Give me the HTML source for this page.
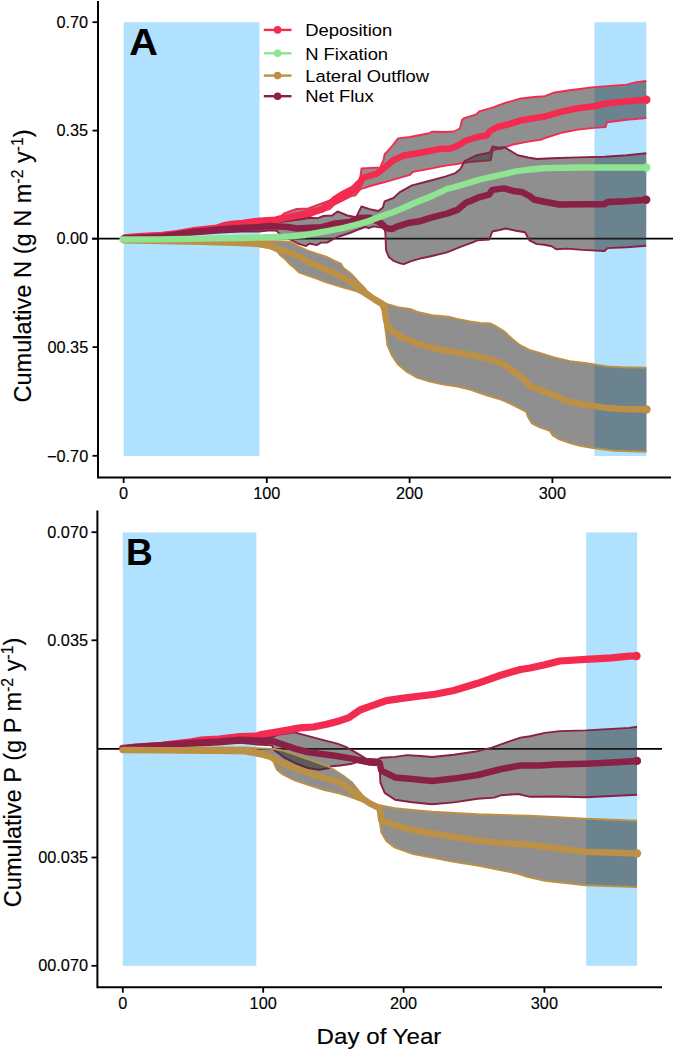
<!DOCTYPE html>
<html><head><meta charset="utf-8"><style>
html,body{margin:0;padding:0;background:#fff;width:673px;height:1050px;overflow:hidden}
</style></head><body>
<svg width="673" height="1050" viewBox="0 0 673 1050" style="position:absolute;left:0;top:0">
<rect x="123.7" y="22.2" width="135.8" height="433.8" fill="#B0E2FF"/>
<rect x="594.5" y="22.2" width="51.8" height="433.8" fill="#B0E2FF"/>
<line x1="92" y1="238.7" x2="673" y2="238.7" stroke="#000" stroke-width="1.8"/>
<polygon points="123.7,238.0 124.0,235.3 137.8,233.9 161.6,232.8 177.0,231.0 193.7,228.0 216.4,225.4 224.0,223.0 230.7,221.8 242.6,220.6 259.2,218.4 275.0,217.5 281.0,216.0 284.0,213.4 296.7,209.0 308.3,208.5 315.0,206.0 319.0,204.5 330.0,200.5 333.9,196.7 342.8,191.4 351.7,186.9 358.0,180.7 360.0,179.3 361.5,168.5 380.3,167.4 383.5,160.0 384.7,154.0 387.7,151.1 392.9,145.1 398.1,138.4 410.0,137.0 429.3,133.2 432.3,131.7 445.0,132.0 453.9,131.5 459.9,128.5 462.0,120.0 464.3,118.1 476.2,114.4 479.2,111.4 492.5,107.7 504.4,103.2 519.3,98.8 534.2,97.0 545.0,96.1 553.2,92.8 569.5,90.3 594.0,87.1 610.4,85.9 626.7,84.6 636.5,82.2 646.3,81.0 646.3,118.1 626.7,119.8 607.1,122.2 605.5,127.1 594.0,127.9 577.7,129.6 561.3,132.8 545.0,138.0 541.6,139.6 526.7,141.9 511.9,144.8 501.5,148.6 495.0,149.5 492.5,151.0 490.7,160.3 478.0,161.3 464.7,162.5 459.9,163.5 455.0,164.4 444.2,165.9 429.3,168.9 413.0,171.9 410.0,174.8 399.6,177.8 389.2,180.8 385.0,182.0 369.9,186.0 363.9,188.2 360.6,189.0 355.0,195.6 351.7,195.8 342.8,200.3 333.9,204.8 330.0,208.9 319.0,212.5 308.3,216.9 300.0,218.5 290.0,220.0 275.0,222.5 259.2,224.0 242.6,225.5 230.7,227.0 216.4,230.0 193.7,233.0 177.0,235.5 161.6,237.0 137.8,238.0 123.7,239.0" fill="rgba(50,50,50,0.546)" stroke="none"/>
<polyline points="123.7,238.0 124.0,235.3 137.8,233.9 161.6,232.8 177.0,231.0 193.7,228.0 216.4,225.4 224.0,223.0 230.7,221.8 242.6,220.6 259.2,218.4 275.0,217.5 281.0,216.0 284.0,213.4 296.7,209.0 308.3,208.5 315.0,206.0 319.0,204.5 330.0,200.5 333.9,196.7 342.8,191.4 351.7,186.9 358.0,180.7 360.0,179.3 361.5,168.5 380.3,167.4 383.5,160.0 384.7,154.0 387.7,151.1 392.9,145.1 398.1,138.4 410.0,137.0 429.3,133.2 432.3,131.7 445.0,132.0 453.9,131.5 459.9,128.5 462.0,120.0 464.3,118.1 476.2,114.4 479.2,111.4 492.5,107.7 504.4,103.2 519.3,98.8 534.2,97.0 545.0,96.1 553.2,92.8 569.5,90.3 594.0,87.1 610.4,85.9 626.7,84.6 636.5,82.2 646.3,81.0" fill="none" stroke="#F42B50" stroke-width="1.9" stroke-linejoin="round"/>
<polyline points="123.7,239.0 137.8,238.0 161.6,237.0 177.0,235.5 193.7,233.0 216.4,230.0 230.7,227.0 242.6,225.5 259.2,224.0 275.0,222.5 290.0,220.0 300.0,218.5 308.3,216.9 319.0,212.5 330.0,208.9 333.9,204.8 342.8,200.3 351.7,195.8 355.0,195.6 360.6,189.0 363.9,188.2 369.9,186.0 385.0,182.0 389.2,180.8 399.6,177.8 410.0,174.8 413.0,171.9 429.3,168.9 444.2,165.9 455.0,164.4 459.9,163.5 464.7,162.5 478.0,161.3 490.7,160.3 492.5,151.0 495.0,149.5 501.5,148.6 511.9,144.8 526.7,141.9 541.6,139.6 545.0,138.0 561.3,132.8 577.7,129.6 594.0,127.9 605.5,127.1 607.1,122.2 626.7,119.8 646.3,118.1" fill="none" stroke="#F42B50" stroke-width="1.9" stroke-linejoin="round"/>

<polygon points="123.7,239.0 137.8,238.0 161.6,237.0 177.0,236.0 193.7,233.0 216.4,230.5 230.7,228.0 242.6,227.0 259.2,225.5 270.0,222.7 287.8,221.0 301.2,219.2 310.1,217.8 317.2,218.3 323.5,216.0 332.1,215.5 337.5,211.4 347.3,215.5 356.2,217.2 361.5,206.5 369.6,209.2 378.5,211.0 382.9,207.4 384.6,201.3 393.5,198.0 399.4,192.4 412.0,185.3 429.0,181.0 446.0,176.4 455.4,173.1 460.2,169.2 464.7,161.0 475.8,155.5 490.0,152.5 492.5,146.5 498.5,147.8 504.4,147.1 510.4,150.8 517.8,155.2 528.2,157.5 537.1,159.0 551.5,158.2 577.7,157.4 604.6,156.7 626.9,155.2 646.3,153.2 646.2,245.8 626.9,247.3 607.5,248.1 604.6,251.0 582.3,249.9 566.6,248.6 556.2,249.3 551.7,246.3 544.3,244.8 536.9,244.1 529.4,240.4 525.0,232.2 516.1,230.7 505.7,228.5 499.7,230.0 492.3,231.5 489.3,239.6 477.4,240.4 472.1,242.6 461.7,246.3 446.9,252.3 432.0,256.0 421.6,258.2 411.2,261.2 403.8,264.2 400.0,263.3 393.7,260.9 389.0,257.3 386.0,250.2 385.4,233.5 384.8,228.8 381.8,227.6 373.5,226.4 368.8,228.2 365.2,227.0 356.9,230.0 349.7,233.0 339.0,236.5 335.5,238.0 331.9,239.9 327.0,242.6 321.0,242.6 316.7,245.2 309.6,243.5 306.0,246.1 298.9,243.9 290.0,239.5 285.0,236.0 278.5,233.0 277.0,230.7 270.0,230.3 259.2,231.5 242.6,231.5 230.7,232.1 216.4,232.7 193.7,234.5 161.6,238.0 123.7,239.5" fill="rgba(50,50,50,0.546)" stroke="none"/>
<polyline points="123.7,239.0 137.8,238.0 161.6,237.0 177.0,236.0 193.7,233.0 216.4,230.5 230.7,228.0 242.6,227.0 259.2,225.5 270.0,222.7 287.8,221.0 301.2,219.2 310.1,217.8 317.2,218.3 323.5,216.0 332.1,215.5 337.5,211.4 347.3,215.5 356.2,217.2 361.5,206.5 369.6,209.2 378.5,211.0 382.9,207.4 384.6,201.3 393.5,198.0 399.4,192.4 412.0,185.3 429.0,181.0 446.0,176.4 455.4,173.1 460.2,169.2 464.7,161.0 475.8,155.5 490.0,152.5 492.5,146.5 498.5,147.8 504.4,147.1 510.4,150.8 517.8,155.2 528.2,157.5 537.1,159.0 551.5,158.2 577.7,157.4 604.6,156.7 626.9,155.2 646.3,153.2" fill="none" stroke="#8A2045" stroke-width="1.9" stroke-linejoin="round"/>
<polyline points="123.7,239.5 161.6,238.0 193.7,234.5 216.4,232.7 230.7,232.1 242.6,231.5 259.2,231.5 270.0,230.3 277.0,230.7 278.5,233.0 285.0,236.0 290.0,239.5 298.9,243.9 306.0,246.1 309.6,243.5 316.7,245.2 321.0,242.6 327.0,242.6 331.9,239.9 335.5,238.0 339.0,236.5 349.7,233.0 356.9,230.0 365.2,227.0 368.8,228.2 373.5,226.4 381.8,227.6 384.8,228.8 385.4,233.5 386.0,250.2 389.0,257.3 393.7,260.9 400.0,263.3 403.8,264.2 411.2,261.2 421.6,258.2 432.0,256.0 446.9,252.3 461.7,246.3 472.1,242.6 477.4,240.4 489.3,239.6 492.3,231.5 499.7,230.0 505.7,228.5 516.1,230.7 525.0,232.2 529.4,240.4 536.9,244.1 544.3,244.8 551.7,246.3 556.2,249.3 566.6,248.6 582.3,249.9 604.6,251.0 607.5,248.1 626.9,247.3 646.2,245.8" fill="none" stroke="#8A2045" stroke-width="1.9" stroke-linejoin="round"/>

<polygon points="123.7,239.8 200.0,240.8 240.0,241.2 277.0,241.1 290.0,241.7 298.9,246.6 307.8,250.6 316.7,253.7 325.6,256.4 334.6,260.8 340.8,263.5 343.5,268.0 350.8,273.5 359.7,283.1 364.2,287.5 367.1,291.3 374.6,297.2 380.0,300.4 387.4,304.1 397.8,307.1 411.2,309.3 418.6,312.3 432.0,315.3 448.4,316.7 457.3,319.0 470.0,321.5 480.4,323.0 490.8,323.5 496.7,326.7 504.2,331.2 510.1,337.1 519.0,344.6 529.4,349.8 541.3,353.5 553.2,357.2 570.0,361.2 584.9,363.0 594.5,364.5 607.1,366.4 622.0,367.2 646.5,367.8 646.5,451.7 614.6,450.7 594.5,448.2 580.0,445.8 569.2,442.8 558.8,439.1 552.8,435.4 549.8,430.9 539.4,427.2 532.0,423.5 528.3,417.5 526.1,411.6 518.6,407.9 509.7,403.4 499.3,399.0 488.9,396.0 480.0,393.0 470.0,389.5 457.3,386.6 442.4,384.4 429.0,381.4 417.1,377.7 406.7,371.7 397.8,364.3 391.9,355.4 387.4,345.0 385.2,327.1 384.5,316.0 383.5,312.8 380.5,305.4 368.6,298.0 361.2,293.5 356.7,291.3 350.0,289.4 343.5,287.6 334.6,284.9 325.6,282.2 316.7,278.7 307.8,275.6 298.9,272.4 294.5,268.0 290.0,264.4 285.0,259.0 280.0,255.0 277.0,251.5 270.0,248.0 259.0,246.0 240.0,244.0 200.0,242.8 123.7,240.5" fill="rgba(50,50,50,0.546)" stroke="none"/>
<polyline points="123.7,239.8 200.0,240.8 240.0,241.2 277.0,241.1 290.0,241.7 298.9,246.6 307.8,250.6 316.7,253.7 325.6,256.4 334.6,260.8 340.8,263.5 343.5,268.0 350.8,273.5 359.7,283.1 364.2,287.5 367.1,291.3 374.6,297.2 380.0,300.4 387.4,304.1 397.8,307.1 411.2,309.3 418.6,312.3 432.0,315.3 448.4,316.7 457.3,319.0 470.0,321.5 480.4,323.0 490.8,323.5 496.7,326.7 504.2,331.2 510.1,337.1 519.0,344.6 529.4,349.8 541.3,353.5 553.2,357.2 570.0,361.2 584.9,363.0 594.5,364.5 607.1,366.4 622.0,367.2 646.5,367.8" fill="none" stroke="#BC9146" stroke-width="1.9" stroke-linejoin="round"/>
<polyline points="123.7,240.5 200.0,242.8 240.0,244.0 259.0,246.0 270.0,248.0 277.0,251.5 280.0,255.0 285.0,259.0 290.0,264.4 294.5,268.0 298.9,272.4 307.8,275.6 316.7,278.7 325.6,282.2 334.6,284.9 343.5,287.6 350.0,289.4 356.7,291.3 361.2,293.5 368.6,298.0 380.5,305.4 383.5,312.8 384.5,316.0 385.2,327.1 387.4,345.0 391.9,355.4 397.8,364.3 406.7,371.7 417.1,377.7 429.0,381.4 442.4,384.4 457.3,386.6 470.0,389.5 480.0,393.0 488.9,396.0 499.3,399.0 509.7,403.4 518.6,407.9 526.1,411.6 528.3,417.5 532.0,423.5 539.4,427.2 549.8,430.9 552.8,435.4 558.8,439.1 569.2,442.8 580.0,445.8 594.5,448.2 614.6,450.7 646.5,451.7" fill="none" stroke="#BC9146" stroke-width="1.9" stroke-linejoin="round"/>

<polyline points="123.7,238.5 137.8,237.5 161.6,236.0 177.0,234.0 193.7,231.0 216.4,228.4 230.7,225.0 242.6,223.8 259.2,221.6 275.0,220.3 285.0,218.0 296.7,215.5 310.0,212.5 322.0,209.5 325.0,206.5 333.9,200.7 342.8,195.8 351.7,191.3 356.0,189.0 360.0,183.0 362.4,178.0 377.3,173.4 384.7,167.4 393.6,160.0 404.0,155.5 421.9,152.5 436.7,149.6 440.0,148.8 450.4,148.5 457.7,145.7 466.0,140.5 476.4,137.4 486.8,135.3 490.0,131.0 497.2,127.0 510.0,123.8 519.3,120.8 534.2,118.1 545.0,116.5 561.3,111.6 577.7,108.3 594.0,106.2 607.1,103.4 626.7,101.3 646.3,99.7" fill="none" stroke="#F42B50" stroke-width="6.5" stroke-linejoin="round" stroke-linecap="round"/>
<circle cx="646.3" cy="99.7" r="4.2" fill="#F42B50"/>

<polyline points="123.7,238.5 161.6,236.5 193.7,232.0 216.4,229.8 230.7,228.5 259.2,227.0 270.0,226.0 287.8,227.0 296.7,228.5 314.6,227.5 320.0,227.6 335.5,223.4 349.7,222.0 359.0,218.0 369.6,217.7 378.5,221.7 382.0,224.0 386.0,228.0 391.9,229.0 397.8,226.3 409.7,222.7 420.0,221.2 432.0,217.3 446.9,213.6 457.3,209.9 466.2,202.5 470.0,201.2 478.9,197.3 489.3,194.3 492.3,189.9 504.2,188.4 514.6,191.3 522.0,192.1 529.4,195.8 533.9,199.5 544.3,201.7 559.2,204.5 582.3,204.2 604.6,204.2 607.5,202.0 626.9,201.3 646.2,199.8" fill="none" stroke="#8A2045" stroke-width="6.5" stroke-linejoin="round" stroke-linecap="round"/>
<circle cx="646.2" cy="199.8" r="4.2" fill="#8A2045"/>

<polyline points="123.7,240.2 200.0,241.8 240.0,243.0 259.0,244.0 270.0,246.0 277.0,248.6 290.0,252.8 298.9,256.4 307.8,261.7 316.7,265.3 325.6,269.8 334.6,273.3 343.5,277.8 350.0,281.3 356.7,286.8 365.7,293.5 374.6,299.4 382.0,303.9 384.5,308.0 385.7,318.0 387.4,325.7 391.9,330.9 402.3,337.5 417.1,343.5 432.0,348.0 446.9,350.9 461.7,353.1 470.0,355.0 484.9,357.9 499.7,362.4 511.6,369.8 525.0,380.0 530.0,386.0 542.0,390.7 554.0,395.5 566.0,400.5 570.0,402.0 584.9,404.6 594.5,406.1 607.1,408.1 622.0,409.1 646.5,409.5" fill="none" stroke="#BC9146" stroke-width="6.5" stroke-linejoin="round" stroke-linecap="round"/>
<circle cx="646.5" cy="409.5" r="4.2" fill="#BC9146"/>

<polyline points="122.5,239.4 160.0,239.4 200.0,238.6 240.0,238.0 270.0,237.2 290.0,236.3 305.0,235.0 320.0,232.3 330.0,230.5 343.8,227.8 355.0,225.0 367.6,221.5 380.0,216.7 390.0,213.3 400.0,209.3 410.0,205.0 420.0,200.7 432.0,196.0 446.9,189.0 455.0,187.0 470.0,182.5 480.0,179.5 500.0,175.0 515.0,171.5 530.0,169.5 545.0,168.2 580.0,167.5 646.3,167.5" fill="none" stroke="#8EE490" stroke-width="6.3" stroke-linejoin="round" stroke-linecap="round"/>
<circle cx="646.3" cy="167.5" r="4.2" fill="#8EE490"/>

<path d="M98,1 V478.5 M97,477.5 H671" stroke="#000" stroke-width="2" fill="none"/>
<line x1="92.5" y1="22.2" x2="98" y2="22.2" stroke="#000" stroke-width="1.8"/>
<line x1="92.5" y1="130.6" x2="98" y2="130.6" stroke="#000" stroke-width="1.8"/>
<line x1="92.5" y1="238.7" x2="98" y2="238.7" stroke="#000" stroke-width="1.8"/>
<line x1="92.5" y1="347.1" x2="98" y2="347.1" stroke="#000" stroke-width="1.8"/>
<line x1="92.5" y1="455.8" x2="98" y2="455.8" stroke="#000" stroke-width="1.8"/>
<line x1="123.65" y1="477.5" x2="123.65" y2="483" stroke="#000" stroke-width="1.8"/>
<line x1="266.8" y1="477.5" x2="266.8" y2="483" stroke="#000" stroke-width="1.8"/>
<line x1="409.6" y1="477.5" x2="409.6" y2="483" stroke="#000" stroke-width="1.8"/>
<line x1="552.4" y1="477.5" x2="552.4" y2="483" stroke="#000" stroke-width="1.8"/>
<text x="88.2" y="27.9" text-anchor="end" style="font-family:'Liberation Sans',sans-serif;stroke:#000;stroke-width:0.15px;font-size:16.3px">0.70</text>
<text x="88.2" y="136.29999999999998" text-anchor="end" style="font-family:'Liberation Sans',sans-serif;stroke:#000;stroke-width:0.15px;font-size:16.3px">0.35</text>
<text x="88.2" y="244.39999999999998" text-anchor="end" style="font-family:'Liberation Sans',sans-serif;stroke:#000;stroke-width:0.15px;font-size:16.3px">0.00</text>
<text x="88.2" y="352.8" text-anchor="end" style="font-family:'Liberation Sans',sans-serif;stroke:#000;stroke-width:0.15px;font-size:16.3px">00.35</text>
<text x="88.2" y="461.5" text-anchor="end" style="font-family:'Liberation Sans',sans-serif;stroke:#000;stroke-width:0.15px;font-size:16.3px">−0.70</text>
<text x="123.65" y="498.8" text-anchor="middle" style="font-family:'Liberation Sans',sans-serif;stroke:#000;stroke-width:0.15px;font-size:16.3px">0</text>
<text x="266.8" y="498.8" text-anchor="middle" style="font-family:'Liberation Sans',sans-serif;stroke:#000;stroke-width:0.15px;font-size:16.3px">100</text>
<text x="409.6" y="498.8" text-anchor="middle" style="font-family:'Liberation Sans',sans-serif;stroke:#000;stroke-width:0.15px;font-size:16.3px">200</text>
<text x="552.4" y="498.8" text-anchor="middle" style="font-family:'Liberation Sans',sans-serif;stroke:#000;stroke-width:0.15px;font-size:16.3px">300</text>
<text transform="translate(129.2,54.5) scale(1.07,1)" style="font-family:'Liberation Sans',sans-serif;stroke:#000;stroke-width:0.15px;font-weight:bold;font-size:37px">A</text>
<line x1="263.8" y1="29.9" x2="291.5" y2="29.9" stroke="#F42B50" stroke-width="2.4"/>
<circle cx="277.6" cy="29.9" r="3.8" fill="#F42B50"/>
<text transform="translate(305.2,35.8) scale(1.06,1)" style="font-family:'Liberation Sans',sans-serif;font-size:17.4px">Deposition</text>
<line x1="263.8" y1="53.3" x2="291.5" y2="53.3" stroke="#8EE490" stroke-width="2.4"/>
<circle cx="277.6" cy="53.3" r="3.8" fill="#8EE490"/>
<text transform="translate(305.2,59.7) scale(1.06,1)" style="font-family:'Liberation Sans',sans-serif;font-size:17.4px">N Fixation</text>
<line x1="263.8" y1="75.6" x2="291.5" y2="75.6" stroke="#BC9146" stroke-width="2.4"/>
<circle cx="277.6" cy="75.6" r="3.8" fill="#BC9146"/>
<text transform="translate(305.2,81.9) scale(1.06,1)" style="font-family:'Liberation Sans',sans-serif;font-size:17.4px">Lateral Outflow</text>
<line x1="263.8" y1="96.2" x2="291.5" y2="96.2" stroke="#8A2045" stroke-width="2.4"/>
<circle cx="277.6" cy="96.2" r="3.8" fill="#8A2045"/>
<text transform="translate(305.2,101.8) scale(1.06,1)" style="font-family:'Liberation Sans',sans-serif;font-size:17.4px">Net Flux</text>
<text transform="translate(31.2,402.6) rotate(-90) scale(0.984,1)" style="font-family:'Liberation Sans',sans-serif;stroke:#000;stroke-width:0.15px;font-size:24px">Cumulative N (g N m<tspan dy="-8" font-size="16">-2</tspan><tspan dy="8"> y</tspan><tspan dy="-8" font-size="16">-1</tspan><tspan dy="8">)</tspan></text>
<rect x="122.8" y="532.4" width="133.5" height="433.4" fill="#B0E2FF"/>
<rect x="586.2" y="532.4" width="50.9" height="433.4" fill="#B0E2FF"/>
<line x1="97" y1="748.8" x2="662" y2="748.8" stroke="#000" stroke-width="1.8"/>
<polygon points="122.8,748.5 161.6,745.5 200.0,742.0 240.0,739.5 256.8,738.0 274.3,736.5 277.8,734.7 294.5,732.3 307.6,735.9 325.4,740.7 337.3,743.6 345.3,746.6 357.3,753.4 365.9,758.6 377.9,759.4 381.3,757.7 395.0,756.9 407.0,755.1 420.7,756.0 432.0,757.0 453.8,754.8 477.6,751.2 491.9,747.6 508.6,741.7 520.5,737.6 530.0,736.2 544.9,732.9 559.7,731.1 585.7,730.4 629.0,727.9 637.0,726.7 637.0,794.8 611.7,796.0 585.7,797.3 554.8,796.5 530.0,796.8 518.1,794.0 501.4,795.2 494.3,797.6 477.6,798.8 453.8,802.4 432.0,804.3 412.1,802.3 395.0,799.7 384.7,792.9 380.4,782.6 379.6,765.4 369.3,764.6 357.3,762.0 352.1,763.7 340.0,765.5 331.3,766.2 329.0,768.0 319.5,769.8 307.6,768.0 295.7,763.3 283.8,757.3 277.8,752.6 274.3,750.2 271.9,745.4 256.8,744.5 240.2,742.7 218.8,744.5 195.0,745.7 161.6,747.5 122.8,748.8" fill="rgba(50,50,50,0.546)" stroke="none"/>
<polyline points="122.8,748.5 161.6,745.5 200.0,742.0 240.0,739.5 256.8,738.0 274.3,736.5 277.8,734.7 294.5,732.3 307.6,735.9 325.4,740.7 337.3,743.6 345.3,746.6 357.3,753.4 365.9,758.6 377.9,759.4 381.3,757.7 395.0,756.9 407.0,755.1 420.7,756.0 432.0,757.0 453.8,754.8 477.6,751.2 491.9,747.6 508.6,741.7 520.5,737.6 530.0,736.2 544.9,732.9 559.7,731.1 585.7,730.4 629.0,727.9 637.0,726.7" fill="none" stroke="#8A2045" stroke-width="1.9" stroke-linejoin="round"/>
<polyline points="122.8,748.8 161.6,747.5 195.0,745.7 218.8,744.5 240.2,742.7 256.8,744.5 271.9,745.4 274.3,750.2 277.8,752.6 283.8,757.3 295.7,763.3 307.6,768.0 319.5,769.8 329.0,768.0 331.3,766.2 340.0,765.5 352.1,763.7 357.3,762.0 369.3,764.6 379.6,765.4 380.4,782.6 384.7,792.9 395.0,799.7 412.1,802.3 432.0,804.3 453.8,802.4 477.6,798.8 494.3,797.6 501.4,795.2 518.1,794.0 530.0,796.8 554.8,796.5 585.7,797.3 611.7,796.0 637.0,794.8" fill="none" stroke="#8A2045" stroke-width="1.9" stroke-linejoin="round"/>

<polygon points="122.8,747.5 245.0,747.5 260.0,748.4 274.3,749.0 283.8,750.8 295.7,754.9 307.6,759.1 319.5,763.3 329.0,766.8 336.0,771.0 343.6,776.0 352.1,782.6 359.0,791.1 365.9,799.7 377.9,804.9 395.0,808.3 412.1,810.0 432.0,811.8 477.6,814.3 530.0,815.8 585.7,818.8 637.0,820.8 637.0,887.1 585.7,885.2 544.9,880.7 525.2,876.2 518.1,873.8 501.4,870.2 477.6,865.5 453.8,861.9 432.0,857.5 412.1,853.7 395.0,847.7 386.4,840.9 381.3,832.3 379.6,820.3 377.9,808.3 362.4,801.4 348.7,796.3 340.0,793.5 331.3,791.5 324.5,790.0 312.6,786.4 294.7,780.4 282.8,774.5 276.9,769.7 273.3,761.4 271.9,758.5 265.0,757.5 254.5,755.2 245.0,753.5 200.0,752.8 122.8,751.0" fill="rgba(50,50,50,0.546)" stroke="none"/>
<polyline points="122.8,747.5 245.0,747.5 260.0,748.4 274.3,749.0 283.8,750.8 295.7,754.9 307.6,759.1 319.5,763.3 329.0,766.8 336.0,771.0 343.6,776.0 352.1,782.6 359.0,791.1 365.9,799.7 377.9,804.9 395.0,808.3 412.1,810.0 432.0,811.8 477.6,814.3 530.0,815.8 585.7,818.8 637.0,820.8" fill="none" stroke="#BC9146" stroke-width="1.9" stroke-linejoin="round"/>
<polyline points="122.8,751.0 200.0,752.8 245.0,753.5 254.5,755.2 265.0,757.5 271.9,758.5 273.3,761.4 276.9,769.7 282.8,774.5 294.7,780.4 312.6,786.4 324.5,790.0 331.3,791.5 340.0,793.5 348.7,796.3 362.4,801.4 377.9,808.3 379.6,820.3 381.3,832.3 386.4,840.9 395.0,847.7 412.1,853.7 432.0,857.5 453.8,861.9 477.6,865.5 501.4,870.2 518.1,873.8 525.2,876.2 544.9,880.7 585.7,885.2 637.0,887.1" fill="none" stroke="#BC9146" stroke-width="1.9" stroke-linejoin="round"/>

<polyline points="122.8,748.3 135.5,747.2 161.6,745.4 191.3,741.8 200.0,740.2 218.8,739.0 240.2,736.6 256.8,736.0 260.0,734.8 277.8,731.8 300.0,727.9 313.4,727.0 326.7,724.3 340.0,720.7 349.0,717.6 355.3,713.2 360.0,710.0 369.3,706.6 386.4,700.6 403.6,698.1 420.7,696.0 435.0,694.3 453.8,690.5 477.6,683.3 501.4,675.0 520.5,669.5 530.0,668.0 544.9,664.8 559.7,661.0 585.7,659.3 611.7,657.8 629.0,656.1 636.5,656.0" fill="none" stroke="#F42B50" stroke-width="7.2" stroke-linejoin="round" stroke-linecap="round"/>
<circle cx="636.5" cy="656" r="4.2" fill="#F42B50"/>

<polyline points="122.8,748.5 135.5,747.0 161.6,745.3 195.0,742.7 218.8,741.5 240.2,739.7 256.8,740.5 271.9,740.9 283.8,744.8 295.7,748.8 307.6,752.0 319.5,753.8 335.0,755.8 352.1,758.6 369.3,762.3 379.6,763.0 381.3,770.6 395.0,777.4 412.1,779.1 432.0,781.0 453.8,778.6 477.6,775.0 501.4,769.0 520.5,765.5 540.0,765.5 554.8,764.6 585.7,763.8 611.7,762.6 637.0,760.9" fill="none" stroke="#8A2045" stroke-width="6.5" stroke-linejoin="round" stroke-linecap="round"/>
<circle cx="637" cy="760.9" r="4.2" fill="#8A2045"/>

<polyline points="122.8,750.0 200.0,750.5 245.0,750.8 255.0,752.0 265.0,755.0 271.9,757.5 277.8,761.5 295.7,768.6 313.5,774.6 331.3,779.9 340.0,782.5 352.1,791.1 360.7,797.1 369.3,803.1 379.6,808.3 381.3,820.3 395.0,825.4 412.1,829.7 432.0,833.5 453.8,836.9 477.6,840.5 501.4,842.9 530.0,844.8 554.8,848.0 585.7,851.7 637.0,853.5" fill="none" stroke="#BC9146" stroke-width="6.5" stroke-linejoin="round" stroke-linecap="round"/>
<circle cx="637" cy="853.5" r="4.2" fill="#BC9146"/>

<path d="M97.4,510.5 V988.2 M96.4,987.2 H662" stroke="#000" stroke-width="2" fill="none"/>
<line x1="91.5" y1="532.2" x2="97" y2="532.2" stroke="#000" stroke-width="1.8"/>
<line x1="91.5" y1="640.3" x2="97" y2="640.3" stroke="#000" stroke-width="1.8"/>
<line x1="91.5" y1="857.5" x2="97" y2="857.5" stroke="#000" stroke-width="1.8"/>
<line x1="91.5" y1="965.8" x2="97" y2="965.8" stroke="#000" stroke-width="1.8"/>
<line x1="122.8" y1="987.2" x2="122.8" y2="992.7" stroke="#000" stroke-width="1.8"/>
<line x1="263.2" y1="987.2" x2="263.2" y2="992.7" stroke="#000" stroke-width="1.8"/>
<line x1="403.6" y1="987.2" x2="403.6" y2="992.7" stroke="#000" stroke-width="1.8"/>
<line x1="544.4" y1="987.2" x2="544.4" y2="992.7" stroke="#000" stroke-width="1.8"/>
<text x="88" y="537.7" text-anchor="end" style="font-family:'Liberation Sans',sans-serif;stroke:#000;stroke-width:0.15px;font-size:16.3px">0.070</text>
<text x="88" y="645.8" text-anchor="end" style="font-family:'Liberation Sans',sans-serif;stroke:#000;stroke-width:0.15px;font-size:16.3px">0.035</text>
<text x="88" y="863.0" text-anchor="end" style="font-family:'Liberation Sans',sans-serif;stroke:#000;stroke-width:0.15px;font-size:16.3px">00.035</text>
<text x="88" y="971.3" text-anchor="end" style="font-family:'Liberation Sans',sans-serif;stroke:#000;stroke-width:0.15px;font-size:16.3px">00.070</text>
<text x="122.8" y="1008.5" text-anchor="middle" style="font-family:'Liberation Sans',sans-serif;stroke:#000;stroke-width:0.15px;font-size:16.3px">0</text>
<text x="263.2" y="1008.5" text-anchor="middle" style="font-family:'Liberation Sans',sans-serif;stroke:#000;stroke-width:0.15px;font-size:16.3px">100</text>
<text x="403.6" y="1008.5" text-anchor="middle" style="font-family:'Liberation Sans',sans-serif;stroke:#000;stroke-width:0.15px;font-size:16.3px">200</text>
<text x="544.4" y="1008.5" text-anchor="middle" style="font-family:'Liberation Sans',sans-serif;stroke:#000;stroke-width:0.15px;font-size:16.3px">300</text>
<text x="126" y="564.6" style="font-family:'Liberation Sans',sans-serif;stroke:#000;stroke-width:0.15px;font-weight:bold;font-size:37px">B</text>
<text transform="translate(21.4,907.2) rotate(-90) scale(0.983,1)" style="font-family:'Liberation Sans',sans-serif;stroke:#000;stroke-width:0.15px;font-size:24px">Cumulative P (g P m<tspan dy="-8" font-size="16">-2</tspan><tspan dy="8"> y</tspan><tspan dy="-8" font-size="16">-1</tspan><tspan dy="8">)</tspan></text>
<text transform="translate(316.6,1043.8) scale(1.059,1)" style="font-family:'Liberation Sans',sans-serif;stroke:#000;stroke-width:0.15px;font-size:22.8px">Day of Year</text>
</svg>
</body></html>
